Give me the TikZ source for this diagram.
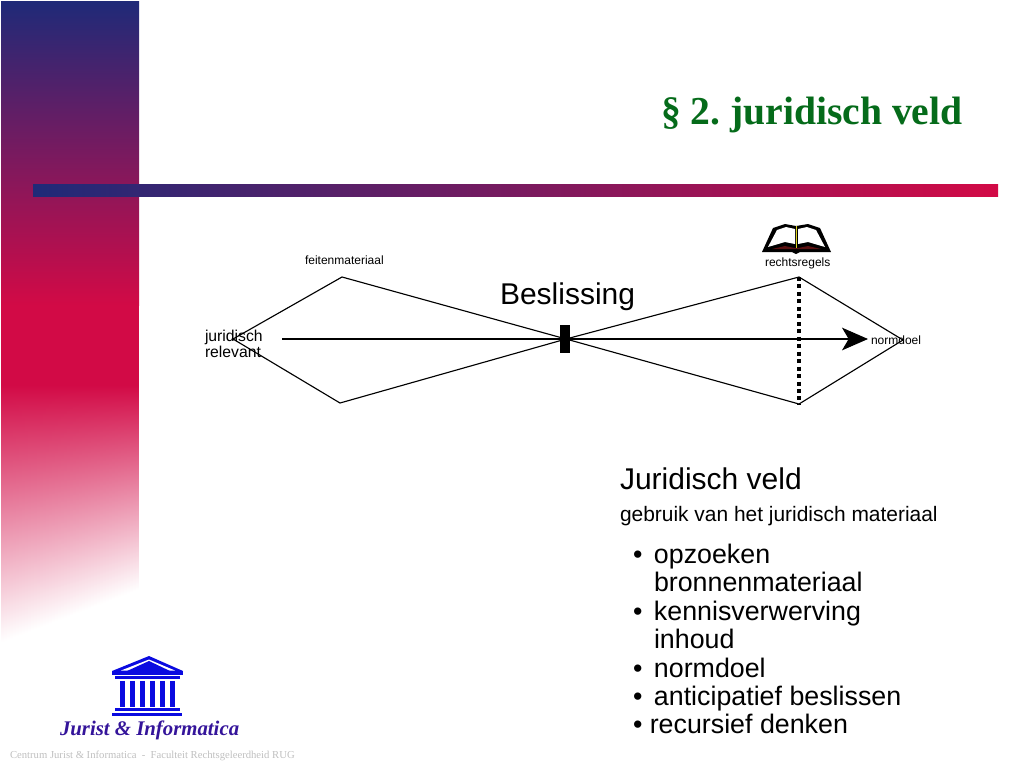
\documentclass[tikz,border=0pt]{standalone}
\usepackage{fontspec}
\setmainfont{Liberation Sans}
\newfontfamily\serifface{Liberation Serif}
\usetikzlibrary{arrows.meta}
\definecolor{slideblue}{HTML}{1F2A78}
\definecolor{slidered}{HTML}{D20A46}
\definecolor{titlegreen}{HTML}{056B1A}
\definecolor{logoblue}{HTML}{0A0AE0}
\definecolor{logoink}{HTML}{34149A}
\definecolor{bookred}{HTML}{5A1010}

\begin{document}
\frenchspacing
\begin{tikzpicture}[
    x=0.75pt, y=-0.75pt,
    base/.style = {inner sep=0pt, outer sep=0pt, anchor=base west},
    tiny/.style = {base, font=\fontsize{9pt}{10pt}\selectfont},
    listing/.style = {base, font=\fontsize{20.1pt}{22pt}\selectfont},
    edge/.style = {draw=black, line width=0.85pt},
    logopart/.style = {fill=logoblue, draw=none}
]

  \useasboundingbox (0,0) rectangle (1024,768);

  % left panel and bar
  \shade[top color=slideblue, bottom color=slidered] (1,1) rectangle (139,305);
  \fill[slidered] (1,305) rectangle (139,386);
  \foreach \stripx in {1,4,...,136} {
    \pgfmathsetmacro{\stripend}{642-(\stripx-1)*52/135}
    \shade[top color=slidered, bottom color=white] (\stripx,385) rectangle (\stripx+3.4,\stripend);
  }
  \fill[white] (139,380) rectangle (141,650);
  \shade[left color=slideblue, right color=slidered] (33,184) rectangle (998,196);

  \node (title) [base, text=titlegreen, font=\serifface\bfseries\fontsize{29.7pt}{32pt}\selectfont] at (661,124) {§ 2. juridisch veld};

  \coordinate (lefttip) at (233,339);
  \coordinate (topleft) at (342,277);
  \coordinate (botleft) at (340,403);
  \coordinate (centre) at (566,339);
  \coordinate (topright) at (799,277);
  \coordinate (botright) at (799,404);
  \coordinate (righttip) at (903,340);
  \coordinate (axisstart) at (282,339);
  \coordinate (axisend) at (868,339);

  \draw[edge] (lefttip) -- (topleft) -- (centre) -- (botright) -- (righttip) -- (topright) -- (centre) -- (botleft) -- cycle;
  \draw[edge, -{Stealth[length=19.5pt, width=17pt, inset=5pt]}] (axisstart) -- (axisend);
  \draw[line width=2.3pt, dash pattern=on 3pt off 2.6pt] (topright) -- (botright);
  \node (decision) [fill=black, minimum width=7.5pt, minimum height=21pt, inner sep=0pt] at (564.5,339) {};

  \node (feiten) [tiny] at (305,264) {feitenmateriaal};
  \node (regels) [tiny] at (765,266) {rechtsregels};
  \node (norm) [tiny] at (871,344) {normdoel};
  \node (juridisch) [base, font=\fontsize{11.8pt}{12pt}\selectfont] at (205,341) {juridisch};
  \node (relevant) [base, font=\fontsize{11.8pt}{12pt}\selectfont] at (205,357) {relevant};
  \node (beslissing) [base, font=\fontsize{22.5pt}{26pt}\selectfont] at (500,304) {Beslissing};

  % book
  \fill[black] (762,252) -- (773,228) -- (785,224) -- (796,226) -- (808,224) -- (820,228) -- (831,252) -- (800,252) -- (796,254) -- (792,252) -- cycle;
  \fill[white] (768,247) -- (777,230) -- (786,227) -- (795,229) -- (795,244) -- (785,242) -- cycle;
  \fill[white] (825,247) -- (816,230) -- (807,227) -- (798,229) -- (798,244) -- (808,242) -- cycle;
  \fill[bookred] (772,249) -- (785,246) -- (795,248) -- (798,248) -- (808,246) -- (821,249) -- cycle;
  \draw[yellow!85!black, line width=1pt] (796.5,226) -- (796.5,248);

  \node (veld) [base, font=\fontsize{22.5pt}{26pt}\selectfont] at (620,489) {Juridisch veld};
  \node (gebruik) [base, font=\fontsize{15.7pt}{18pt}\selectfont] at (620,521) {gebruik van het juridisch materiaal};

  \node (item1) [listing] at (633,563) {\makebox[15.75pt][l]{•}opzoeken};
  \node (item2) [listing] at (654,591) {bronnenmateriaal};
  \node (item3) [listing] at (633,620) {\makebox[15.75pt][l]{•}kennisverwerving};
  \node (item4) [listing] at (654,648) {inhoud};
  \node (item5) [listing] at (633,677) {\makebox[15.75pt][l]{•}normdoel};
  \node (item6) [listing] at (633,705) {\makebox[15.75pt][l]{•}anticipatief beslissen};
  \node (item7) [listing] at (633,733) {• recursief denken};

  % logo
  \fill[logopart] (149,656) -- (183,671) -- (112,671) -- cycle;
  \fill[white] (149,659.5) -- (175,670.5) -- (121,670.5) -- cycle;
  \fill[logopart] (149,661) -- (170,671) -- (127,671) -- cycle;
  \fill[logopart] (112,671) rectangle (183,675);
  \fill[logopart] (115,676) rectangle (180,679);
  \foreach \colx in {122,132,142,152,162,172} {
    \fill[logopart] (\colx-2.5,681) rectangle (\colx+2.5,707);
  }
  \fill[logopart] (115,708) rectangle (180,711);
  \fill[logopart] (112,713) rectangle (182,716);

  \node (logotext) [base, text=logoink, font=\serifface\bfseries\itshape\fontsize{15.6pt}{20pt}\selectfont] at (60,735) {Jurist \& Informatica};
  \node (footer) [base, text=black!25, font=\serifface\fontsize{8pt}{9pt}\selectfont] at (10,758) {Centrum Jurist \& Informatica\ \ -\ \ Faculteit Rechtsgeleerdheid RUG};

\end{tikzpicture}
\end{document}
